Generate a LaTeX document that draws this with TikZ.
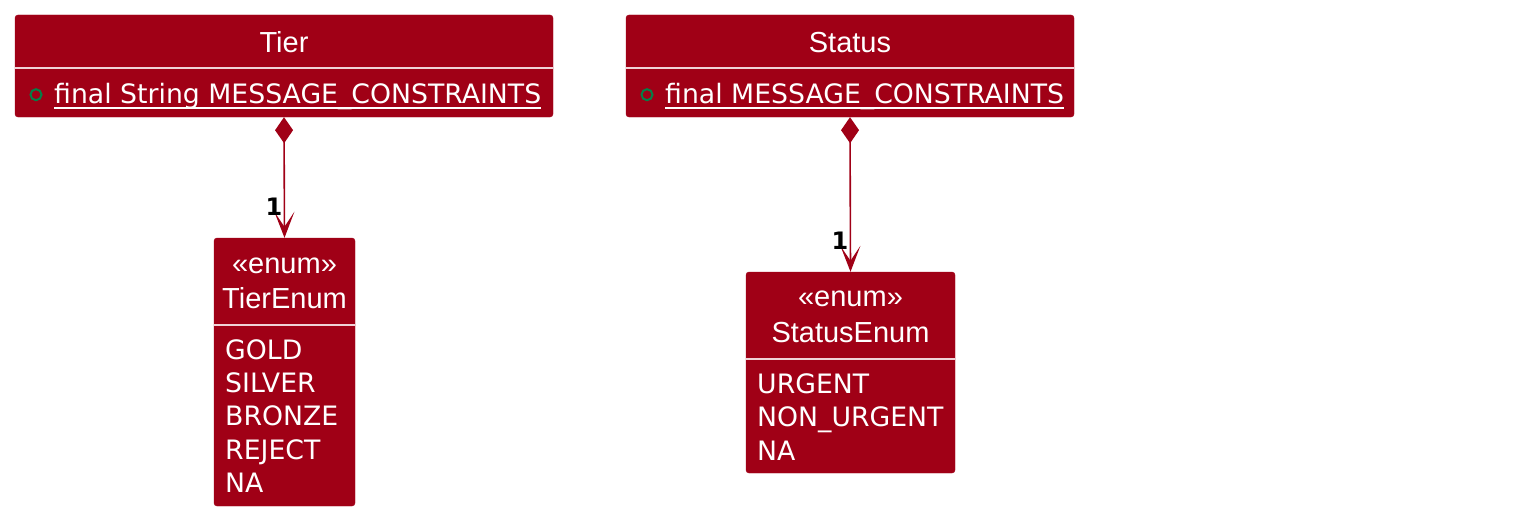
\documentclass[tikz,border=0pt]{standalone}
\usepackage{fontspec}
\setmainfont{Liberation Sans}
\newfontfamily\memberfont{DejaVu Sans}
\usetikzlibrary{arrows.meta,calc}
\definecolor{umlred}{RGB}{160,0,22}
\definecolor{umlsep}{RGB}{240,210,215}
\definecolor{umlgreen}{RGB}{3,128,72}
\tikzset{box/.style={fill=umlred,draw=umlred,rounded corners=3pt,inner sep=0pt},
         head/.style={text=white,inner sep=0pt,anchor=base,font=\fontsize{29}{33}\selectfont},
         member/.style={text=white,inner sep=0pt,anchor=base west,font=\memberfont\fontsize{26.7}{33}\selectfont},
         sep/.style={draw=umlsep,line width=1.5pt},
         uline/.style={draw=white,line width=1.2pt},
         vis/.style={draw=umlgreen,line width=2pt},
         link/.style={draw=umlred,line width=1.6pt,
           {Diamond[length=26pt,width=18pt]}-{Stealth[length=26pt,width=20pt,inset=15pt]}},
         mult/.style={inner sep=0pt,anchor=base east,font=\memberfont\bfseries\fontsize{24}{24}\selectfont}}

\begin{document}
\begin{tikzpicture}[x=1pt,y=-1pt]
  \useasboundingbox (0,0) rectangle (1539,519);
  % classes
  \node[box,minimum width=538pt,minimum height=102pt] (tier) at (284,66) {};
  \node[box,minimum width=448pt,minimum height=102pt] (status) at (850,66) {};
  \node[box,minimum width=141pt,minimum height=268pt] (tierenum) at (284.5,372) {};
  \node[box,minimum width=209pt,minimum height=201pt] (statusenum) at (850.5,372.5) {};
  % Tier
  \node[head] (tiername) at (284,52.5) {Tier};
  \draw[sep] (tier.west |- 0,68) -- (tier.east |- 0,68);
  \draw[vis] (36,94.7) circle (5.5pt);
  \node[member] (tierattr) at (54,103) {final String MESSAGE\_CONSTRAINTS};
  \draw[uline] ([yshift=-5pt]tierattr.base west) -- ([yshift=-5pt]tierattr.base east);
  % Status
  \node[head] (statusname) at (850,52.5) {Status};
  \draw[sep] (status.west |- 0,68) -- (status.east |- 0,68);
  \draw[vis] (647,94.7) circle (5.5pt);
  \node[member] (statusattr) at (665,103) {final MESSAGE\_CONSTRAINTS};
  \draw[uline] ([yshift=-5pt]statusattr.base west) -- ([yshift=-5pt]statusattr.base east);
  % TierEnum
  \node[head] (tierstereo) at (284.5,273) {«enum»};
  \node[head] (tierenumname) at (284.5,308) {TierEnum};
  \draw[sep] (tierenum.west |- 0,325) -- (tierenum.east |- 0,325);
  \node[member] (gold) at (225,359) {GOLD};
  \node[member] (silver) at (225,392.3) {SILVER};
  \node[member] (bronze) at (225,425.6) {BRONZE};
  \node[member] (reject) at (225,459) {REJECT};
  \node[member] (tierna) at (225,492.3) {NA};
  % StatusEnum
  \node[head] (statusstereo) at (850.5,306.7) {«enum»};
  \node[head] (statusenumname) at (850.5,342) {StatusEnum};
  \draw[sep] (statusenum.west |- 0,359) -- (statusenum.east |- 0,359);
  \node[member] (urgent) at (757,393) {URGENT};
  \node[member] (nonurgent) at (757,426.5) {NON\_URGENT};
  \node[member] (statusna) at (757,460) {NA};
  % compositions
  \draw[link] (tier.south) -- (tierenum.north);
  \draw[link] (status.south) -- (statusenum.north);
  \node[mult] (tiermult) at ([xshift=-2pt,yshift=22pt]tierenum.north) {1};
  \node[mult] (statusmult) at ([xshift=-2pt,yshift=22pt]statusenum.north) {1};
\end{tikzpicture}
\end{document}
